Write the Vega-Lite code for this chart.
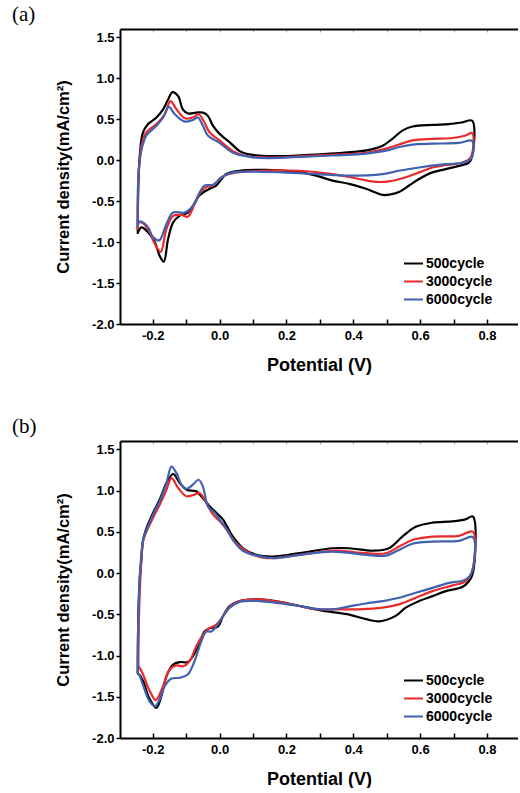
{
"$schema": "https://vega.github.io/schema/vega-lite/v6.json",
"background": "white",
"padding": {"left": 12, "top": 3, "right": 0, "bottom": 0},
"spacing": 41,
"config": {"view": {"stroke": null}, "font": "Liberation Sans"},
"resolve": {"legend": {"color": "independent"}},
"datasets": {
"a": [
{"cycle":"500cycle","step":1,"potential":-0.245,"current":-0.9},
{"cycle":"500cycle","step":2,"potential":-0.243,"current":-0.3},
{"cycle":"500cycle","step":3,"potential":-0.238,"current":0.1},
{"cycle":"500cycle","step":4,"potential":-0.229,"current":0.34},
{"cycle":"500cycle","step":5,"potential":-0.214,"current":0.44},
{"cycle":"500cycle","step":6,"potential":-0.189,"current":0.52},
{"cycle":"500cycle","step":7,"potential":-0.169,"current":0.62},
{"cycle":"500cycle","step":8,"potential":-0.154,"current":0.74},
{"cycle":"500cycle","step":9,"potential":-0.141,"current":0.83},
{"cycle":"500cycle","step":10,"potential":-0.124,"current":0.78},
{"cycle":"500cycle","step":11,"potential":-0.11,"current":0.62},
{"cycle":"500cycle","step":12,"potential":-0.095,"current":0.57},
{"cycle":"500cycle","step":13,"potential":-0.07,"current":0.58},
{"cycle":"500cycle","step":14,"potential":-0.05,"current":0.58},
{"cycle":"500cycle","step":15,"potential":-0.035,"current":0.54},
{"cycle":"500cycle","step":16,"potential":-0.02,"current":0.42},
{"cycle":"500cycle","step":17,"potential":0.0,"current":0.32},
{"cycle":"500cycle","step":18,"potential":0.03,"current":0.22},
{"cycle":"500cycle","step":19,"potential":0.06,"current":0.11},
{"cycle":"500cycle","step":20,"potential":0.09,"current":0.07},
{"cycle":"500cycle","step":21,"potential":0.14,"current":0.05},
{"cycle":"500cycle","step":22,"potential":0.2,"current":0.05},
{"cycle":"500cycle","step":23,"potential":0.3,"current":0.07},
{"cycle":"500cycle","step":24,"potential":0.4,"current":0.1},
{"cycle":"500cycle","step":25,"potential":0.448,"current":0.125},
{"cycle":"500cycle","step":26,"potential":0.488,"current":0.175},
{"cycle":"500cycle","step":27,"potential":0.517,"current":0.26},
{"cycle":"500cycle","step":28,"potential":0.547,"current":0.36},
{"cycle":"500cycle","step":29,"potential":0.577,"current":0.41},
{"cycle":"500cycle","step":30,"potential":0.637,"current":0.43},
{"cycle":"500cycle","step":31,"potential":0.687,"current":0.44},
{"cycle":"500cycle","step":32,"potential":0.726,"current":0.46},
{"cycle":"500cycle","step":33,"potential":0.756,"current":0.48},
{"cycle":"500cycle","step":34,"potential":0.756,"current":0.05},
{"cycle":"500cycle","step":35,"potential":0.746,"current":-0.03},
{"cycle":"500cycle","step":36,"potential":0.716,"current":-0.07},
{"cycle":"500cycle","step":37,"potential":0.677,"current":-0.11},
{"cycle":"500cycle","step":38,"potential":0.637,"current":-0.15},
{"cycle":"500cycle","step":39,"potential":0.597,"current":-0.23},
{"cycle":"500cycle","step":40,"potential":0.567,"current":-0.31},
{"cycle":"500cycle","step":41,"potential":0.537,"current":-0.39},
{"cycle":"500cycle","step":42,"potential":0.51,"current":-0.42},
{"cycle":"500cycle","step":43,"potential":0.488,"current":-0.425},
{"cycle":"500cycle","step":44,"potential":0.438,"current":-0.35},
{"cycle":"500cycle","step":45,"potential":0.388,"current":-0.29},
{"cycle":"500cycle","step":46,"potential":0.338,"current":-0.25},
{"cycle":"500cycle","step":47,"potential":0.289,"current":-0.19},
{"cycle":"500cycle","step":48,"potential":0.239,"current":-0.15},
{"cycle":"500cycle","step":49,"potential":0.14,"current":-0.12},
{"cycle":"500cycle","step":50,"potential":0.06,"current":-0.13},
{"cycle":"500cycle","step":51,"potential":0.02,"current":-0.17},
{"cycle":"500cycle","step":52,"potential":-0.01,"current":-0.31},
{"cycle":"500cycle","step":53,"potential":-0.03,"current":-0.35},
{"cycle":"500cycle","step":54,"potential":-0.06,"current":-0.43},
{"cycle":"500cycle","step":55,"potential":-0.08,"current":-0.56},
{"cycle":"500cycle","step":56,"potential":-0.095,"current":-0.64},
{"cycle":"500cycle","step":57,"potential":-0.12,"current":-0.68},
{"cycle":"500cycle","step":58,"potential":-0.139,"current":-0.76},
{"cycle":"500cycle","step":59,"potential":-0.154,"current":-0.96},
{"cycle":"500cycle","step":60,"potential":-0.167,"current":-1.24},
{"cycle":"500cycle","step":61,"potential":-0.179,"current":-1.17},
{"cycle":"500cycle","step":62,"potential":-0.194,"current":-1.0},
{"cycle":"500cycle","step":63,"potential":-0.214,"current":-0.88},
{"cycle":"500cycle","step":64,"potential":-0.234,"current":-0.82},
{"cycle":"500cycle","step":65,"potential":-0.244,"current":-0.88},
{"cycle":"500cycle","step":66,"potential":-0.245,"current":-0.9},
{"cycle":"3000cycle","step":1,"potential":-0.245,"current":-0.85},
{"cycle":"3000cycle","step":2,"potential":-0.243,"current":-0.2},
{"cycle":"3000cycle","step":3,"potential":-0.238,"current":0.05},
{"cycle":"3000cycle","step":4,"potential":-0.234,"current":0.17},
{"cycle":"3000cycle","step":5,"potential":-0.219,"current":0.34},
{"cycle":"3000cycle","step":6,"potential":-0.189,"current":0.44},
{"cycle":"3000cycle","step":7,"potential":-0.164,"current":0.56},
{"cycle":"3000cycle","step":8,"potential":-0.147,"current":0.72},
{"cycle":"3000cycle","step":9,"potential":-0.129,"current":0.62},
{"cycle":"3000cycle","step":10,"potential":-0.104,"current":0.51},
{"cycle":"3000cycle","step":11,"potential":-0.08,"current":0.52},
{"cycle":"3000cycle","step":12,"potential":-0.063,"current":0.56},
{"cycle":"3000cycle","step":13,"potential":-0.048,"current":0.48},
{"cycle":"3000cycle","step":14,"potential":-0.03,"current":0.34},
{"cycle":"3000cycle","step":15,"potential":0.0,"current":0.24},
{"cycle":"3000cycle","step":16,"potential":0.04,"current":0.11},
{"cycle":"3000cycle","step":17,"potential":0.08,"current":0.05},
{"cycle":"3000cycle","step":18,"potential":0.14,"current":0.03},
{"cycle":"3000cycle","step":19,"potential":0.3,"current":0.06},
{"cycle":"3000cycle","step":20,"potential":0.438,"current":0.09},
{"cycle":"3000cycle","step":21,"potential":0.498,"current":0.14},
{"cycle":"3000cycle","step":22,"potential":0.537,"current":0.19},
{"cycle":"3000cycle","step":23,"potential":0.577,"current":0.24},
{"cycle":"3000cycle","step":24,"potential":0.637,"current":0.26},
{"cycle":"3000cycle","step":25,"potential":0.697,"current":0.27},
{"cycle":"3000cycle","step":26,"potential":0.736,"current":0.3},
{"cycle":"3000cycle","step":27,"potential":0.756,"current":0.33},
{"cycle":"3000cycle","step":28,"potential":0.751,"current":0.03},
{"cycle":"3000cycle","step":29,"potential":0.726,"current":-0.03},
{"cycle":"3000cycle","step":30,"potential":0.677,"current":-0.06},
{"cycle":"3000cycle","step":31,"potential":0.637,"current":-0.09},
{"cycle":"3000cycle","step":32,"potential":0.597,"current":-0.15},
{"cycle":"3000cycle","step":33,"potential":0.557,"current":-0.21},
{"cycle":"3000cycle","step":34,"potential":0.507,"current":-0.26},
{"cycle":"3000cycle","step":35,"potential":0.468,"current":-0.265},
{"cycle":"3000cycle","step":36,"potential":0.418,"current":-0.23},
{"cycle":"3000cycle","step":37,"potential":0.338,"current":-0.17},
{"cycle":"3000cycle","step":38,"potential":0.239,"current":-0.13},
{"cycle":"3000cycle","step":39,"potential":0.12,"current":-0.13},
{"cycle":"3000cycle","step":40,"potential":0.04,"current":-0.16},
{"cycle":"3000cycle","step":41,"potential":0.005,"current":-0.21},
{"cycle":"3000cycle","step":42,"potential":-0.02,"current":-0.31},
{"cycle":"3000cycle","step":43,"potential":-0.04,"current":-0.33},
{"cycle":"3000cycle","step":44,"potential":-0.06,"current":-0.41},
{"cycle":"3000cycle","step":45,"potential":-0.075,"current":-0.54},
{"cycle":"3000cycle","step":46,"potential":-0.095,"current":-0.69},
{"cycle":"3000cycle","step":47,"potential":-0.114,"current":-0.67},
{"cycle":"3000cycle","step":48,"potential":-0.139,"current":-0.68},
{"cycle":"3000cycle","step":49,"potential":-0.159,"current":-0.84},
{"cycle":"3000cycle","step":50,"potential":-0.176,"current":-1.12},
{"cycle":"3000cycle","step":51,"potential":-0.194,"current":-1.02},
{"cycle":"3000cycle","step":52,"potential":-0.209,"current":-0.88},
{"cycle":"3000cycle","step":53,"potential":-0.229,"current":-0.77},
{"cycle":"3000cycle","step":54,"potential":-0.241,"current":-0.76},
{"cycle":"3000cycle","step":55,"potential":-0.245,"current":-0.85},
{"cycle":"6000cycle","step":1,"potential":-0.245,"current":-0.82},
{"cycle":"6000cycle","step":2,"potential":-0.243,"current":-0.2},
{"cycle":"6000cycle","step":3,"potential":-0.238,"current":0.02},
{"cycle":"6000cycle","step":4,"potential":-0.234,"current":0.12},
{"cycle":"6000cycle","step":5,"potential":-0.219,"current":0.3},
{"cycle":"6000cycle","step":6,"potential":-0.189,"current":0.42},
{"cycle":"6000cycle","step":7,"potential":-0.169,"current":0.52},
{"cycle":"6000cycle","step":8,"potential":-0.152,"current":0.65},
{"cycle":"6000cycle","step":9,"potential":-0.134,"current":0.56},
{"cycle":"6000cycle","step":10,"potential":-0.104,"current":0.47},
{"cycle":"6000cycle","step":11,"potential":-0.08,"current":0.49},
{"cycle":"6000cycle","step":12,"potential":-0.065,"current":0.52},
{"cycle":"6000cycle","step":13,"potential":-0.05,"current":0.42},
{"cycle":"6000cycle","step":14,"potential":-0.035,"current":0.3},
{"cycle":"6000cycle","step":15,"potential":0.0,"current":0.21},
{"cycle":"6000cycle","step":16,"potential":0.04,"current":0.09},
{"cycle":"6000cycle","step":17,"potential":0.09,"current":0.04},
{"cycle":"6000cycle","step":18,"potential":0.14,"current":0.025},
{"cycle":"6000cycle","step":19,"potential":0.3,"current":0.05},
{"cycle":"6000cycle","step":20,"potential":0.438,"current":0.08},
{"cycle":"6000cycle","step":21,"potential":0.498,"current":0.115},
{"cycle":"6000cycle","step":22,"potential":0.537,"current":0.16},
{"cycle":"6000cycle","step":23,"potential":0.577,"current":0.19},
{"cycle":"6000cycle","step":24,"potential":0.637,"current":0.2},
{"cycle":"6000cycle","step":25,"potential":0.716,"current":0.21},
{"cycle":"6000cycle","step":26,"potential":0.756,"current":0.235},
{"cycle":"6000cycle","step":27,"potential":0.754,"current":0.03},
{"cycle":"6000cycle","step":28,"potential":0.731,"current":-0.03},
{"cycle":"6000cycle","step":29,"potential":0.677,"current":-0.05},
{"cycle":"6000cycle","step":30,"potential":0.597,"current":-0.09},
{"cycle":"6000cycle","step":31,"potential":0.537,"current":-0.13},
{"cycle":"6000cycle","step":32,"potential":0.488,"current":-0.17},
{"cycle":"6000cycle","step":33,"potential":0.388,"current":-0.19},
{"cycle":"6000cycle","step":34,"potential":0.289,"current":-0.17},
{"cycle":"6000cycle","step":35,"potential":0.189,"current":-0.15},
{"cycle":"6000cycle","step":36,"potential":0.1,"current":-0.14},
{"cycle":"6000cycle","step":37,"potential":0.04,"current":-0.15},
{"cycle":"6000cycle","step":38,"potential":0.01,"current":-0.2},
{"cycle":"6000cycle","step":39,"potential":-0.02,"current":-0.3},
{"cycle":"6000cycle","step":40,"potential":-0.045,"current":-0.31},
{"cycle":"6000cycle","step":41,"potential":-0.06,"current":-0.4},
{"cycle":"6000cycle","step":42,"potential":-0.08,"current":-0.56},
{"cycle":"6000cycle","step":43,"potential":-0.104,"current":-0.64},
{"cycle":"6000cycle","step":44,"potential":-0.139,"current":-0.64},
{"cycle":"6000cycle","step":45,"potential":-0.159,"current":-0.78},
{"cycle":"6000cycle","step":46,"potential":-0.181,"current":-0.98},
{"cycle":"6000cycle","step":47,"potential":-0.199,"current":-0.94},
{"cycle":"6000cycle","step":48,"potential":-0.214,"current":-0.82},
{"cycle":"6000cycle","step":49,"potential":-0.229,"current":-0.76},
{"cycle":"6000cycle","step":50,"potential":-0.241,"current":-0.75},
{"cycle":"6000cycle","step":51,"potential":-0.245,"current":-0.82}
],
"b": [
{"cycle":"500cycle","step":1,"potential":-0.245,"current":-1.22},
{"cycle":"500cycle","step":2,"potential":-0.243,"current":-0.5},
{"cycle":"500cycle","step":3,"potential":-0.238,"current":0.0},
{"cycle":"500cycle","step":4,"potential":-0.234,"current":0.16},
{"cycle":"500cycle","step":5,"potential":-0.229,"current":0.4},
{"cycle":"500cycle","step":6,"potential":-0.219,"current":0.54},
{"cycle":"500cycle","step":7,"potential":-0.199,"current":0.73},
{"cycle":"500cycle","step":8,"potential":-0.179,"current":0.89},
{"cycle":"500cycle","step":9,"potential":-0.159,"current":1.09},
{"cycle":"500cycle","step":10,"potential":-0.139,"current":1.2},
{"cycle":"500cycle","step":11,"potential":-0.119,"current":1.09},
{"cycle":"500cycle","step":12,"potential":-0.099,"current":1.01},
{"cycle":"500cycle","step":13,"potential":-0.07,"current":0.99},
{"cycle":"500cycle","step":14,"potential":-0.055,"current":0.93},
{"cycle":"500cycle","step":15,"potential":-0.03,"current":0.81},
{"cycle":"500cycle","step":16,"potential":-0.01,"current":0.73},
{"cycle":"500cycle","step":17,"potential":0.01,"current":0.65},
{"cycle":"500cycle","step":18,"potential":0.02,"current":0.58},
{"cycle":"500cycle","step":19,"potential":0.04,"current":0.44},
{"cycle":"500cycle","step":20,"potential":0.07,"current":0.3},
{"cycle":"500cycle","step":21,"potential":0.11,"current":0.22},
{"cycle":"500cycle","step":22,"potential":0.16,"current":0.2},
{"cycle":"500cycle","step":23,"potential":0.239,"current":0.24},
{"cycle":"500cycle","step":24,"potential":0.338,"current":0.3},
{"cycle":"500cycle","step":25,"potential":0.388,"current":0.3},
{"cycle":"500cycle","step":26,"potential":0.458,"current":0.27},
{"cycle":"500cycle","step":27,"potential":0.507,"current":0.3},
{"cycle":"500cycle","step":28,"potential":0.547,"current":0.44},
{"cycle":"500cycle","step":29,"potential":0.587,"current":0.56},
{"cycle":"500cycle","step":30,"potential":0.637,"current":0.61},
{"cycle":"500cycle","step":31,"potential":0.697,"current":0.625},
{"cycle":"500cycle","step":32,"potential":0.736,"current":0.65},
{"cycle":"500cycle","step":33,"potential":0.758,"current":0.685},
{"cycle":"500cycle","step":34,"potential":0.758,"current":0.0},
{"cycle":"500cycle","step":35,"potential":0.746,"current":-0.1},
{"cycle":"500cycle","step":36,"potential":0.726,"current":-0.17},
{"cycle":"500cycle","step":37,"potential":0.677,"current":-0.22},
{"cycle":"500cycle","step":38,"potential":0.637,"current":-0.28},
{"cycle":"500cycle","step":39,"potential":0.597,"current":-0.34},
{"cycle":"500cycle","step":40,"potential":0.557,"current":-0.42},
{"cycle":"500cycle","step":41,"potential":0.527,"current":-0.52},
{"cycle":"500cycle","step":42,"potential":0.478,"current":-0.586},
{"cycle":"500cycle","step":43,"potential":0.438,"current":-0.56},
{"cycle":"500cycle","step":44,"potential":0.388,"current":-0.505},
{"cycle":"500cycle","step":45,"potential":0.338,"current":-0.475},
{"cycle":"500cycle","step":46,"potential":0.299,"current":-0.45},
{"cycle":"500cycle","step":47,"potential":0.239,"current":-0.4},
{"cycle":"500cycle","step":48,"potential":0.189,"current":-0.355},
{"cycle":"500cycle","step":49,"potential":0.119,"current":-0.32},
{"cycle":"500cycle","step":50,"potential":0.06,"current":-0.34},
{"cycle":"500cycle","step":51,"potential":0.03,"current":-0.4},
{"cycle":"500cycle","step":52,"potential":0.01,"current":-0.525},
{"cycle":"500cycle","step":53,"potential":-0.005,"current":-0.65},
{"cycle":"500cycle","step":54,"potential":-0.03,"current":-0.67},
{"cycle":"500cycle","step":55,"potential":-0.045,"current":-0.71},
{"cycle":"500cycle","step":56,"potential":-0.06,"current":-0.85},
{"cycle":"500cycle","step":57,"potential":-0.08,"current":-1.01},
{"cycle":"500cycle","step":58,"potential":-0.095,"current":-1.08},
{"cycle":"500cycle","step":59,"potential":-0.119,"current":-1.08},
{"cycle":"500cycle","step":60,"potential":-0.139,"current":-1.11},
{"cycle":"500cycle","step":61,"potential":-0.159,"current":-1.25},
{"cycle":"500cycle","step":62,"potential":-0.174,"current":-1.49},
{"cycle":"500cycle","step":63,"potential":-0.189,"current":-1.635},
{"cycle":"500cycle","step":64,"potential":-0.209,"current":-1.53},
{"cycle":"500cycle","step":65,"potential":-0.229,"current":-1.31},
{"cycle":"500cycle","step":66,"potential":-0.241,"current":-1.23},
{"cycle":"500cycle","step":67,"potential":-0.245,"current":-1.22},
{"cycle":"3000cycle","step":1,"potential":-0.243,"current":-1.13},
{"cycle":"3000cycle","step":2,"potential":-0.241,"current":-0.5},
{"cycle":"3000cycle","step":3,"potential":-0.236,"current":0.0},
{"cycle":"3000cycle","step":4,"potential":-0.229,"current":0.38},
{"cycle":"3000cycle","step":5,"potential":-0.219,"current":0.5},
{"cycle":"3000cycle","step":6,"potential":-0.199,"current":0.67},
{"cycle":"3000cycle","step":7,"potential":-0.179,"current":0.83},
{"cycle":"3000cycle","step":8,"potential":-0.159,"current":1.01},
{"cycle":"3000cycle","step":9,"potential":-0.144,"current":1.15},
{"cycle":"3000cycle","step":10,"potential":-0.124,"current":1.03},
{"cycle":"3000cycle","step":11,"potential":-0.099,"current":0.93},
{"cycle":"3000cycle","step":12,"potential":-0.075,"current":0.95},
{"cycle":"3000cycle","step":13,"potential":-0.06,"current":0.97},
{"cycle":"3000cycle","step":14,"potential":-0.045,"current":0.89},
{"cycle":"3000cycle","step":15,"potential":-0.02,"current":0.71},
{"cycle":"3000cycle","step":16,"potential":0.005,"current":0.61},
{"cycle":"3000cycle","step":17,"potential":0.025,"current":0.5},
{"cycle":"3000cycle","step":18,"potential":0.05,"current":0.36},
{"cycle":"3000cycle","step":19,"potential":0.09,"current":0.24},
{"cycle":"3000cycle","step":20,"potential":0.14,"current":0.18},
{"cycle":"3000cycle","step":21,"potential":0.239,"current":0.22},
{"cycle":"3000cycle","step":22,"potential":0.338,"current":0.27},
{"cycle":"3000cycle","step":23,"potential":0.438,"current":0.24},
{"cycle":"3000cycle","step":24,"potential":0.498,"current":0.24},
{"cycle":"3000cycle","step":25,"potential":0.537,"current":0.32},
{"cycle":"3000cycle","step":26,"potential":0.577,"current":0.4},
{"cycle":"3000cycle","step":27,"potential":0.637,"current":0.44},
{"cycle":"3000cycle","step":28,"potential":0.716,"current":0.45},
{"cycle":"3000cycle","step":29,"potential":0.758,"current":0.5},
{"cycle":"3000cycle","step":30,"potential":0.754,"current":0.0},
{"cycle":"3000cycle","step":31,"potential":0.736,"current":-0.1},
{"cycle":"3000cycle","step":32,"potential":0.697,"current":-0.15},
{"cycle":"3000cycle","step":33,"potential":0.637,"current":-0.22},
{"cycle":"3000cycle","step":34,"potential":0.587,"current":-0.3},
{"cycle":"3000cycle","step":35,"potential":0.537,"current":-0.38},
{"cycle":"3000cycle","step":36,"potential":0.488,"current":-0.42},
{"cycle":"3000cycle","step":37,"potential":0.418,"current":-0.44},
{"cycle":"3000cycle","step":38,"potential":0.338,"current":-0.44},
{"cycle":"3000cycle","step":39,"potential":0.289,"current":-0.44},
{"cycle":"3000cycle","step":40,"potential":0.239,"current":-0.4},
{"cycle":"3000cycle","step":41,"potential":0.119,"current":-0.32},
{"cycle":"3000cycle","step":42,"potential":0.06,"current":-0.34},
{"cycle":"3000cycle","step":43,"potential":0.03,"current":-0.41},
{"cycle":"3000cycle","step":44,"potential":0.01,"current":-0.525},
{"cycle":"3000cycle","step":45,"potential":-0.01,"current":-0.625},
{"cycle":"3000cycle","step":46,"potential":-0.035,"current":-0.68},
{"cycle":"3000cycle","step":47,"potential":-0.05,"current":-0.75},
{"cycle":"3000cycle","step":48,"potential":-0.07,"current":-0.89},
{"cycle":"3000cycle","step":49,"potential":-0.09,"current":-1.07},
{"cycle":"3000cycle","step":50,"potential":-0.109,"current":-1.13},
{"cycle":"3000cycle","step":51,"potential":-0.129,"current":-1.12},
{"cycle":"3000cycle","step":52,"potential":-0.149,"current":-1.17},
{"cycle":"3000cycle","step":53,"potential":-0.169,"current":-1.37},
{"cycle":"3000cycle","step":54,"potential":-0.191,"current":-1.54},
{"cycle":"3000cycle","step":55,"potential":-0.209,"current":-1.43},
{"cycle":"3000cycle","step":56,"potential":-0.229,"current":-1.23},
{"cycle":"3000cycle","step":57,"potential":-0.239,"current":-1.15},
{"cycle":"3000cycle","step":58,"potential":-0.243,"current":-1.13},
{"cycle":"6000cycle","step":1,"potential":-0.245,"current":-1.22},
{"cycle":"6000cycle","step":2,"potential":-0.243,"current":-0.5},
{"cycle":"6000cycle","step":3,"potential":-0.238,"current":0.0},
{"cycle":"6000cycle","step":4,"potential":-0.229,"current":0.4},
{"cycle":"6000cycle","step":5,"potential":-0.219,"current":0.52},
{"cycle":"6000cycle","step":6,"potential":-0.199,"current":0.71},
{"cycle":"6000cycle","step":7,"potential":-0.179,"current":0.87},
{"cycle":"6000cycle","step":8,"potential":-0.159,"current":1.09},
{"cycle":"6000cycle","step":9,"potential":-0.144,"current":1.29},
{"cycle":"6000cycle","step":10,"potential":-0.129,"current":1.21},
{"cycle":"6000cycle","step":11,"potential":-0.114,"current":1.07},
{"cycle":"6000cycle","step":12,"potential":-0.099,"current":1.02},
{"cycle":"6000cycle","step":13,"potential":-0.08,"current":1.07},
{"cycle":"6000cycle","step":14,"potential":-0.063,"current":1.13},
{"cycle":"6000cycle","step":15,"potential":-0.05,"current":1.05},
{"cycle":"6000cycle","step":16,"potential":-0.035,"current":0.81},
{"cycle":"6000cycle","step":17,"potential":-0.015,"current":0.73},
{"cycle":"6000cycle","step":18,"potential":0.005,"current":0.62},
{"cycle":"6000cycle","step":19,"potential":0.02,"current":0.54},
{"cycle":"6000cycle","step":20,"potential":0.04,"current":0.4},
{"cycle":"6000cycle","step":21,"potential":0.07,"current":0.27},
{"cycle":"6000cycle","step":22,"potential":0.11,"current":0.21},
{"cycle":"6000cycle","step":23,"potential":0.16,"current":0.18},
{"cycle":"6000cycle","step":24,"potential":0.239,"current":0.22},
{"cycle":"6000cycle","step":25,"potential":0.338,"current":0.26},
{"cycle":"6000cycle","step":26,"potential":0.438,"current":0.22},
{"cycle":"6000cycle","step":27,"potential":0.498,"current":0.21},
{"cycle":"6000cycle","step":28,"potential":0.537,"current":0.28},
{"cycle":"6000cycle","step":29,"potential":0.577,"current":0.355},
{"cycle":"6000cycle","step":30,"potential":0.637,"current":0.38},
{"cycle":"6000cycle","step":31,"potential":0.716,"current":0.39},
{"cycle":"6000cycle","step":32,"potential":0.758,"current":0.435},
{"cycle":"6000cycle","step":33,"potential":0.754,"current":0.0},
{"cycle":"6000cycle","step":34,"potential":0.736,"current":-0.08},
{"cycle":"6000cycle","step":35,"potential":0.687,"current":-0.12},
{"cycle":"6000cycle","step":36,"potential":0.637,"current":-0.18},
{"cycle":"6000cycle","step":37,"potential":0.587,"current":-0.24},
{"cycle":"6000cycle","step":38,"potential":0.537,"current":-0.3},
{"cycle":"6000cycle","step":39,"potential":0.488,"current":-0.34},
{"cycle":"6000cycle","step":40,"potential":0.438,"current":-0.37},
{"cycle":"6000cycle","step":41,"potential":0.388,"current":-0.405},
{"cycle":"6000cycle","step":42,"potential":0.338,"current":-0.44},
{"cycle":"6000cycle","step":43,"potential":0.289,"current":-0.435},
{"cycle":"6000cycle","step":44,"potential":0.239,"current":-0.4},
{"cycle":"6000cycle","step":45,"potential":0.119,"current":-0.34},
{"cycle":"6000cycle","step":46,"potential":0.06,"current":-0.35},
{"cycle":"6000cycle","step":47,"potential":0.03,"current":-0.42},
{"cycle":"6000cycle","step":48,"potential":0.01,"current":-0.525},
{"cycle":"6000cycle","step":49,"potential":-0.01,"current":-0.65},
{"cycle":"6000cycle","step":50,"potential":-0.025,"current":-0.71},
{"cycle":"6000cycle","step":51,"potential":-0.04,"current":-0.71},
{"cycle":"6000cycle","step":52,"potential":-0.055,"current":-0.83},
{"cycle":"6000cycle","step":53,"potential":-0.075,"current":-1.07},
{"cycle":"6000cycle","step":54,"potential":-0.095,"current":-1.23},
{"cycle":"6000cycle","step":55,"potential":-0.119,"current":-1.27},
{"cycle":"6000cycle","step":56,"potential":-0.144,"current":-1.28},
{"cycle":"6000cycle","step":57,"potential":-0.164,"current":-1.37},
{"cycle":"6000cycle","step":58,"potential":-0.179,"current":-1.53},
{"cycle":"6000cycle","step":59,"potential":-0.194,"current":-1.615},
{"cycle":"6000cycle","step":60,"potential":-0.209,"current":-1.56},
{"cycle":"6000cycle","step":61,"potential":-0.229,"current":-1.36},
{"cycle":"6000cycle","step":62,"potential":-0.241,"current":-1.23},
{"cycle":"6000cycle","step":63,"potential":-0.245,"current":-1.22}
]
},
"vconcat": [
{
"title": {"text": "(a)", "anchor": "start", "frame": "group", "dx": -108, "offset": 4, "font": "Liberation Serif", "fontSize": 21, "fontWeight": "normal", "color": "black"},
"width": 398, "height": 295,
"data": {"name": "a"},
"resolve": {"axis": {"x": "independent"}},
"layer": [
{"mark": {"type": "line", "strokeWidth": 2.2, "interpolate": "catmull-rom"},
"encoding": {
"x": {"field": "potential", "type": "quantitative", "scale": {"domain": [-0.298, 0.893], "nice": false, "zero": false},
 "axis": {"orient": "bottom", "title": "Potential (V)", "values": [-0.2,-0.1,0,0.1,0.2,0.3,0.4,0.5,0.6,0.7,0.8], "labelExpr": "round(datum.value*10) % 2 == 0 ? replace(format(datum.value, '.1f'), '\u2212', '-') : ''", "grid": false, "domainColor": "black", "domainWidth": 2, "tickColor": "black", "tickWidth": 1.5, "tickSize": -5, "labelPadding": 10, "labelFont": "Liberation Sans", "labelFontSize": 13, "labelFontWeight": "bold", "labelColor": "black", "labelFlush": false, "labelOverlap": false, "titleFont": "Liberation Sans", "titleFontSize": 18, "titleFontWeight": "bold", "titleColor": "black", "titlePadding": 14}},
"y": {"field": "current", "type": "quantitative", "title": "Current density(mA/cm²)", "scale": {"domain": [-2, 1.6], "nice": false, "zero": false},
 "axis": {"values": [-2,-1.75,-1.5,-1.25,-1,-0.75,-0.5,-0.25,0,0.25,0.5,0.75,1,1.25,1.5], "labelExpr": "round(datum.value*4) % 2 == 0 ? replace(format(datum.value, '.1f'), '\u2212', '-') : ''", "grid": false, "domainColor": "black", "domainWidth": 2, "tickColor": "black", "tickWidth": 1.5, "tickSize": 4, "labelPadding": 2, "labelFont": "Liberation Sans", "labelFontSize": 13, "labelFontWeight": "bold", "labelColor": "black", "labelFlush": false, "labelOverlap": false, "titleFont": "Liberation Sans", "titleFontSize": 16.5, "titleFontWeight": "bold", "titleColor": "black", "titlePadding": 20}},
"color": {"field": "cycle", "type": "nominal", "scale": {"domain": ["500cycle","3000cycle","6000cycle"], "range": ["#000000","#ec2a2a","#4060b0"]},
 "legend": {"orient": "none", "legendX": 283, "legendY": 224, "title": null, "padding": 0, "symbolType": "stroke", "symbolSize": 360, "symbolStrokeWidth": 2, "labelFont": "Liberation Sans", "labelFontSize": 14, "labelFontWeight": "bold", "labelColor": "black", "labelOffset": 2, "rowPadding": 0}},
"order": {"field": "step", "type": "quantitative"}
}},
{"mark": {"type": "line", "opacity": 0},
"encoding": {
"x": {"field": "potential", "type": "quantitative", "axis": {"orient": "top", "title": null, "labels": false, "values": [-0.2,-0.1,0,0.1,0.2,0.3,0.4,0.5,0.6,0.7,0.8], "grid": false, "domainColor": "black", "domainWidth": 2, "tickColor": "#aaaaaa", "tickWidth": 1, "tickSize": -3}},
"y": {"field": "current", "type": "quantitative", "title": "Current density(mA/cm²)"}
}}
]
},
{
"title": {"text": "(b)", "anchor": "start", "frame": "group", "dx": -108, "offset": 4, "font": "Liberation Serif", "fontSize": 21, "fontWeight": "normal", "color": "black"},
"width": 398, "height": 297,
"data": {"name": "b"},
"resolve": {"axis": {"x": "independent"}},
"layer": [
{"mark": {"type": "line", "strokeWidth": 2.2, "interpolate": "catmull-rom"},
"encoding": {
"x": {"field": "potential", "type": "quantitative", "scale": {"domain": [-0.298, 0.893], "nice": false, "zero": false},
 "axis": {"orient": "bottom", "title": "Potential (V)", "values": [-0.2,-0.1,0,0.1,0.2,0.3,0.4,0.5,0.6,0.7,0.8], "labelExpr": "round(datum.value*10) % 2 == 0 ? replace(format(datum.value, '.1f'), '\u2212', '-') : ''", "grid": false, "domainColor": "black", "domainWidth": 2, "tickColor": "black", "tickWidth": 1.5, "tickSize": -5, "labelPadding": 10, "labelFont": "Liberation Sans", "labelFontSize": 13, "labelFontWeight": "bold", "labelColor": "black", "labelFlush": false, "labelOverlap": false, "titleFont": "Liberation Sans", "titleFontSize": 18, "titleFontWeight": "bold", "titleColor": "black", "titlePadding": 14}},
"y": {"field": "current", "type": "quantitative", "title": "Current density(mA/cm²)", "scale": {"domain": [-2, 1.6], "nice": false, "zero": false},
 "axis": {"values": [-2,-1.75,-1.5,-1.25,-1,-0.75,-0.5,-0.25,0,0.25,0.5,0.75,1,1.25,1.5], "labelExpr": "round(datum.value*4) % 2 == 0 ? replace(format(datum.value, '.1f'), '\u2212', '-') : ''", "grid": false, "domainColor": "black", "domainWidth": 2, "tickColor": "black", "tickWidth": 1.5, "tickSize": 4, "labelPadding": 2, "labelFont": "Liberation Sans", "labelFontSize": 13, "labelFontWeight": "bold", "labelColor": "black", "labelFlush": false, "labelOverlap": false, "titleFont": "Liberation Sans", "titleFontSize": 16.5, "titleFontWeight": "bold", "titleColor": "black", "titlePadding": 20}},
"color": {"field": "cycle", "type": "nominal", "scale": {"domain": ["500cycle","3000cycle","6000cycle"], "range": ["#000000","#ec2a2a","#4060b0"]},
 "legend": {"orient": "none", "legendX": 283, "legendY": 229, "title": null, "padding": 0, "symbolType": "stroke", "symbolSize": 360, "symbolStrokeWidth": 2, "labelFont": "Liberation Sans", "labelFontSize": 14, "labelFontWeight": "bold", "labelColor": "black", "labelOffset": 2, "rowPadding": 0}},
"order": {"field": "step", "type": "quantitative"}
}},
{"mark": {"type": "line", "opacity": 0},
"encoding": {
"x": {"field": "potential", "type": "quantitative", "axis": {"orient": "top", "title": null, "labels": false, "values": [-0.2,-0.1,0,0.1,0.2,0.3,0.4,0.5,0.6,0.7,0.8], "grid": false, "domainColor": "black", "domainWidth": 2, "tickColor": "#aaaaaa", "tickWidth": 1, "tickSize": -3}},
"y": {"field": "current", "type": "quantitative", "title": "Current density(mA/cm²)"}
}}
]
}
]
}
